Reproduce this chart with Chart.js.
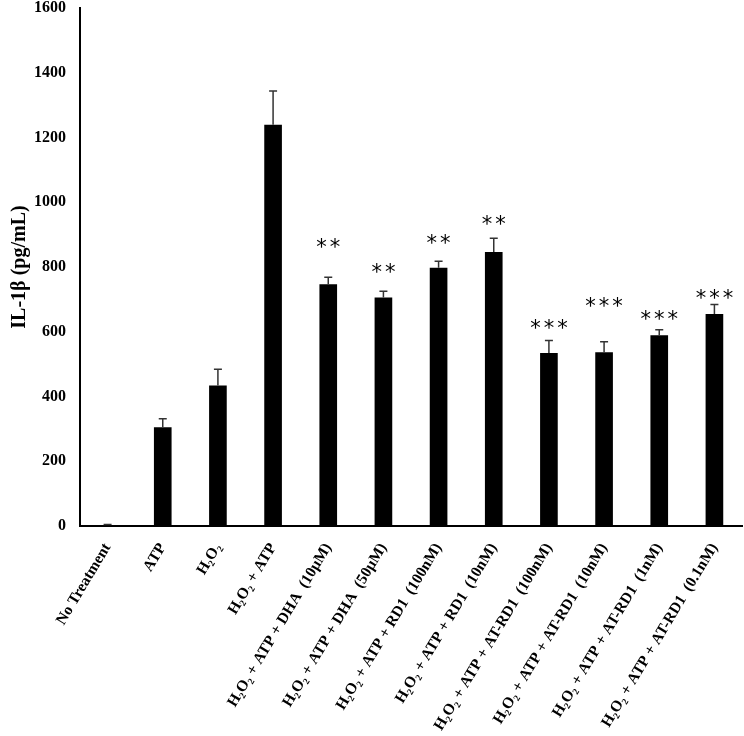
<!DOCTYPE html>
<html><head><meta charset="utf-8">
<script src="https://cdn.jsdelivr.net/npm/chart.js@4.4.1/dist/chart.umd.min.js"></script>
<style>html,body{margin:0;padding:0;background:#fff}</style>
</head><body>
<canvas id="c" width="744" height="736"></canvas>
<script>
const categories = [
  "No Treatment",
  "ATP",
  "H₂O₂",
  "H₂O₂ + ATP",
  "H₂O₂ + ATP + DHA  (10μM)",
  "H₂O₂ + ATP + DHA  (50μM)",
  "H₂O₂ + ATP + RD1  (100nM)",
  "H₂O₂ + ATP + RD1  (10nM)",
  "H₂O₂ + ATP + AT-RD1  (100nM)",
  "H₂O₂ + ATP + AT-RD1  (10nM)",
  "H₂O₂ + ATP + AT-RD1  (1nM)",
  "H₂O₂ + ATP + AT-RD1  (0.1nM)"
];
const means = [3, 305, 434, 1239, 747, 706, 798, 846, 534, 537, 589, 655];
const errors = [2, 26, 50, 105, 21, 19, 20, 43, 39, 32, 17, 29];
const stars = ["", "", "", "", "**", "**", "**", "**", "***", "***", "***", "***"];
const starLevels = [null, null, null, null, 878, 801, 890, 947, 627, 694, 655, 720];
const yTicks = [0, 200, 400, 600, 800, 1000, 1200, 1400, 1600];

const errorPlugin = {
  id: 'errs',
  afterDatasetsDraw(chart) {
    const ctx = chart.ctx, xs = chart.scales.x, ys = chart.scales.y;
    ctx.save();
    for (let i = 0; i < means.length; i++) {
      const x = xs.getPixelForValue(i);
      const yb = ys.getPixelForValue(means[i]);
      const yt = ys.getPixelForValue(means[i] + errors[i]);
      ctx.strokeStyle = '#333';
      ctx.lineWidth = 1.5;
      ctx.beginPath();
      ctx.moveTo(x, yb); ctx.lineTo(x, yt);
      ctx.moveTo(x - 4, yt); ctx.lineTo(x + 4, yt);
      ctx.stroke();
      if (stars[i]) {
        const yc = ys.getPixelForValue(starLevels[i]);
        ctx.fillStyle = '#000';
        ctx.font = '21px "DejaVu Sans"';
        ctx.textAlign = 'center';
        ctx.textBaseline = 'alphabetic';
        ctx.letterSpacing = '3px';
        ctx.fillText(stars[i], x + 1.5, yc + 12);
      }
    }
    ctx.restore();
  }
};

new Chart(document.getElementById('c'), {
  type: 'bar',
  data: {
    labels: categories,
    datasets: [{
      data: means,
      backgroundColor: '#000',
      borderWidth: 0,
      barPercentage: 0.32,
      categoryPercentage: 1
    }]
  },
  options: {
    responsive: false,
    animation: false,
    layout: { padding: 0 },
    plugins: { legend: { display: false }, tooltip: { enabled: false } },
    scales: {
      x: {
        grid: { display: false, drawTicks: false },
        border: { color: '#000', width: 2 },
        afterFit(s) { s.height = 210; s.paddingLeft = 0; s.paddingRight = 2; s.paddingTop = 0; s.paddingBottom = 0; },
        ticks: {
          color: '#000',
          autoSkip: false,
          minRotation: 59,
          maxRotation: 59,
          padding: 14,
          font: { family: '"Liberation Serif", "Times New Roman", serif', size: 15.5, weight: 'bold' }
        }
      },
      y: {
        min: 0, max: 1600,
        afterBuildTicks(scale) { scale.ticks = yTicks.map(v => ({ value: v })); },
        afterFit(s) { s.width = 80; s.paddingTop = 8; s.paddingBottom = 0; },
        grid: { display: false, drawTicks: false },
        border: { color: '#000', width: 2 },
        ticks: {
          color: '#000',
          padding: 14,
          callback: v => String(v),
          font: { family: '"Liberation Serif", "Times New Roman", serif', size: 16, weight: 'bold' }
        },
        title: {
          display: true,
          text: 'IL-1β (pg/mL)',
          color: '#000',
          padding: 8,
          font: { family: '"Liberation Serif", "Times New Roman", serif', size: 20, weight: 'bold' }
        }
      }
    }
  },
  plugins: [errorPlugin]
});
</script>
</body></html>
